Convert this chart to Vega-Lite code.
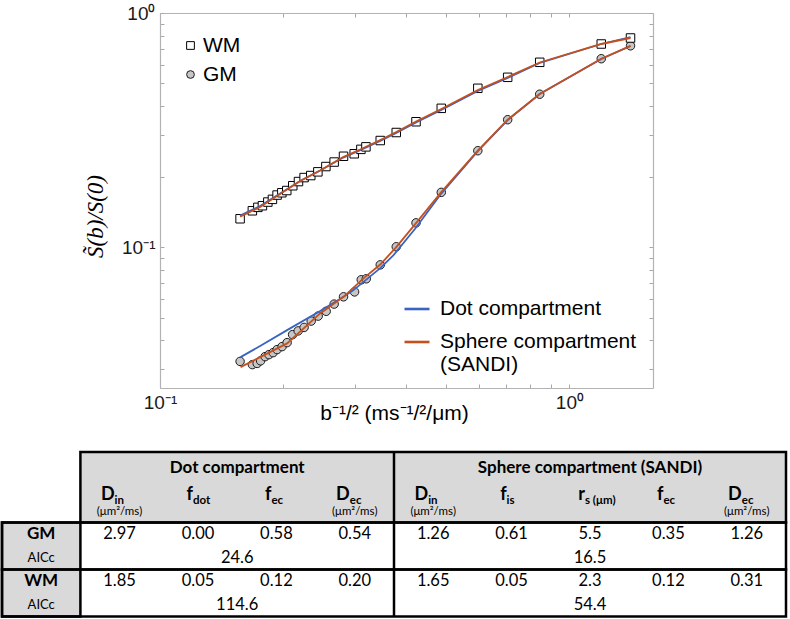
{
  "$schema": "https://vega.github.io/schema/vega-lite/v6.json",
  "width": 790,
  "height": 619,
  "autosize": {"type": "none"},
  "padding": 0,
  "background": "white",
  "config": {"view": {"stroke": null}, "font": "Liberation Sans"},
  "datasets": {
    "points": [
      {"tissue": "GM", "b": 0.1569, "s": 0.03247}, {"tissue": "GM", "b": 0.1681, "s": 0.03147},
      {"tissue": "GM", "b": 0.1727, "s": 0.03184}, {"tissue": "GM", "b": 0.1761, "s": 0.03266},
      {"tissue": "GM", "b": 0.1806, "s": 0.03404}, {"tissue": "GM", "b": 0.1845, "s": 0.03471},
      {"tissue": "GM", "b": 0.1889, "s": 0.0354}, {"tissue": "GM", "b": 0.1932, "s": 0.03648},
      {"tissue": "GM", "b": 0.1987, "s": 0.03757}, {"tissue": "GM", "b": 0.2044, "s": 0.03907},
      {"tissue": "GM", "b": 0.2108, "s": 0.04227}, {"tissue": "GM", "b": 0.2175, "s": 0.04384},
      {"tissue": "GM", "b": 0.2249, "s": 0.04537}, {"tissue": "GM", "b": 0.234, "s": 0.04828},
      {"tissue": "GM", "b": 0.2434, "s": 0.05071}, {"tissue": "GM", "b": 0.2546, "s": 0.05316},
      {"tissue": "GM", "b": 0.2663, "s": 0.05707}, {"tissue": "GM", "b": 0.2807, "s": 0.06131},
      {"tissue": "GM", "b": 0.2987, "s": 0.06433}, {"tissue": "GM", "b": 0.3101, "s": 0.0725},
      {"tissue": "GM", "b": 0.319, "s": 0.0732}, {"tissue": "GM", "b": 0.3451, "s": 0.08394},
      {"tissue": "GM", "b": 0.3776, "s": 0.1003}, {"tissue": "GM", "b": 0.422, "s": 0.1269},
      {"tissue": "GM", "b": 0.4864, "s": 0.1713}, {"tissue": "GM", "b": 0.5974, "s": 0.258},
      {"tissue": "GM", "b": 0.7066, "s": 0.35}, {"tissue": "GM", "b": 0.8461, "s": 0.4498},
      {"tissue": "GM", "b": 1.196, "s": 0.6378}, {"tissue": "GM", "b": 1.41, "s": 0.7241},
      {"tissue": "WM", "b": 0.1569, "s": 0.1321}, {"tissue": "WM", "b": 0.1681, "s": 0.1429},
      {"tissue": "WM", "b": 0.1734, "s": 0.1478}, {"tissue": "WM", "b": 0.1779, "s": 0.1502},
      {"tissue": "WM", "b": 0.1834, "s": 0.1557}, {"tissue": "WM", "b": 0.1882, "s": 0.1599},
      {"tissue": "WM", "b": 0.1932, "s": 0.1668}, {"tissue": "WM", "b": 0.1984, "s": 0.1706},
      {"tissue": "WM", "b": 0.204, "s": 0.1744}, {"tissue": "WM", "b": 0.211, "s": 0.1828},
      {"tissue": "WM", "b": 0.2179, "s": 0.1905}, {"tissue": "WM", "b": 0.2249, "s": 0.1981},
      {"tissue": "WM", "b": 0.2335, "s": 0.2021}, {"tissue": "WM", "b": 0.243, "s": 0.2096},
      {"tissue": "WM", "b": 0.2542, "s": 0.2208}, {"tissue": "WM", "b": 0.2663, "s": 0.2308},
      {"tissue": "WM", "b": 0.2807, "s": 0.2443}, {"tissue": "WM", "b": 0.2981, "s": 0.2504},
      {"tissue": "WM", "b": 0.3095, "s": 0.2615}, {"tissue": "WM", "b": 0.3184, "s": 0.268},
      {"tissue": "WM", "b": 0.3451, "s": 0.2852}, {"tissue": "WM", "b": 0.3776, "s": 0.3086},
      {"tissue": "WM", "b": 0.422, "s": 0.3431}, {"tissue": "WM", "b": 0.4864, "s": 0.3915},
      {"tissue": "WM", "b": 0.5974, "s": 0.4768}, {"tissue": "WM", "b": 0.7066, "s": 0.5312},
      {"tissue": "WM", "b": 0.8461, "s": 0.6157}, {"tissue": "WM", "b": 1.196, "s": 0.7372},
      {"tissue": "WM", "b": 1.41, "s": 0.782}
    ],
    "fits": [
      {"tissue": "GM", "model": "Dot compartment", "b": 0.1573, "s": 0.03388},
      {"tissue": "GM", "model": "Dot compartment", "b": 0.1756, "s": 0.03776},
      {"tissue": "GM", "model": "Dot compartment", "b": 0.2044, "s": 0.04418},
      {"tissue": "GM", "model": "Dot compartment", "b": 0.2461, "s": 0.05327},
      {"tissue": "GM", "model": "Dot compartment", "b": 0.2807, "s": 0.06131},
      {"tissue": "GM", "model": "Dot compartment", "b": 0.2969, "s": 0.06549},
      {"tissue": "GM", "model": "Dot compartment", "b": 0.3451, "s": 0.08133},
      {"tissue": "GM", "model": "Dot compartment", "b": 0.3719, "s": 0.09243},
      {"tissue": "GM", "model": "Dot compartment", "b": 0.4203, "s": 0.12},
      {"tissue": "GM", "model": "Dot compartment", "b": 0.4864, "s": 0.1693},
      {"tissue": "GM", "model": "Dot compartment", "b": 0.5974, "s": 0.2572},
      {"tissue": "GM", "model": "Dot compartment", "b": 0.7066, "s": 0.3489},
      {"tissue": "GM", "model": "Dot compartment", "b": 0.8461, "s": 0.4507},
      {"tissue": "GM", "model": "Dot compartment", "b": 1.196, "s": 0.6359},
      {"tissue": "GM", "model": "Dot compartment", "b": 1.41, "s": 0.7227},
      {"tissue": "WM", "model": "Dot compartment", "b": 0.1569, "s": 0.1363},
      {"tissue": "WM", "model": "Dot compartment", "b": 0.1756, "s": 0.1497},
      {"tissue": "WM", "model": "Dot compartment", "b": 0.1965, "s": 0.1693},
      {"tissue": "WM", "model": "Dot compartment", "b": 0.2199, "s": 0.1914},
      {"tissue": "WM", "model": "Dot compartment", "b": 0.2461, "s": 0.2123},
      {"tissue": "WM", "model": "Dot compartment", "b": 0.2802, "s": 0.2412},
      {"tissue": "WM", "model": "Dot compartment", "b": 0.3083, "s": 0.2597},
      {"tissue": "WM", "model": "Dot compartment", "b": 0.3451, "s": 0.2838},
      {"tissue": "WM", "model": "Dot compartment", "b": 0.3776, "s": 0.3071},
      {"tissue": "WM", "model": "Dot compartment", "b": 0.422, "s": 0.3404},
      {"tissue": "WM", "model": "Dot compartment", "b": 0.4864, "s": 0.385},
      {"tissue": "WM", "model": "Dot compartment", "b": 0.5974, "s": 0.4641},
      {"tissue": "WM", "model": "Dot compartment", "b": 0.7066, "s": 0.5275},
      {"tissue": "WM", "model": "Dot compartment", "b": 0.8461, "s": 0.6115},
      {"tissue": "WM", "model": "Dot compartment", "b": 1.196, "s": 0.7372},
      {"tissue": "WM", "model": "Dot compartment", "b": 1.41, "s": 0.7897},
      {"tissue": "GM", "model": "Sphere compartment (SANDI)", "b": 0.1573, "s": 0.0307},
      {"tissue": "GM", "model": "Sphere compartment (SANDI)", "b": 0.1756, "s": 0.03388},
      {"tissue": "GM", "model": "Sphere compartment (SANDI)", "b": 0.2044, "s": 0.03877},
      {"tissue": "GM", "model": "Sphere compartment (SANDI)", "b": 0.2461, "s": 0.05208},
      {"tissue": "GM", "model": "Sphere compartment (SANDI)", "b": 0.2807, "s": 0.06131},
      {"tissue": "GM", "model": "Sphere compartment (SANDI)", "b": 0.3141, "s": 0.07348},
      {"tissue": "GM", "model": "Sphere compartment (SANDI)", "b": 0.3451, "s": 0.08419},
      {"tissue": "GM", "model": "Sphere compartment (SANDI)", "b": 0.3776, "s": 0.1},
      {"tissue": "GM", "model": "Sphere compartment (SANDI)", "b": 0.422, "s": 0.1266},
      {"tissue": "GM", "model": "Sphere compartment (SANDI)", "b": 0.4864, "s": 0.1718},
      {"tissue": "GM", "model": "Sphere compartment (SANDI)", "b": 0.5974, "s": 0.258},
      {"tissue": "GM", "model": "Sphere compartment (SANDI)", "b": 0.7066, "s": 0.35},
      {"tissue": "GM", "model": "Sphere compartment (SANDI)", "b": 0.8461, "s": 0.4507},
      {"tissue": "GM", "model": "Sphere compartment (SANDI)", "b": 1.196, "s": 0.6378},
      {"tissue": "GM", "model": "Sphere compartment (SANDI)", "b": 1.41, "s": 0.7241},
      {"tissue": "WM", "model": "Sphere compartment (SANDI)", "b": 0.1569, "s": 0.135},
      {"tissue": "WM", "model": "Sphere compartment (SANDI)", "b": 0.1756, "s": 0.1482},
      {"tissue": "WM", "model": "Sphere compartment (SANDI)", "b": 0.1965, "s": 0.1685},
      {"tissue": "WM", "model": "Sphere compartment (SANDI)", "b": 0.2199, "s": 0.1914},
      {"tissue": "WM", "model": "Sphere compartment (SANDI)", "b": 0.2461, "s": 0.2123},
      {"tissue": "WM", "model": "Sphere compartment (SANDI)", "b": 0.2802, "s": 0.2424},
      {"tissue": "WM", "model": "Sphere compartment (SANDI)", "b": 0.3083, "s": 0.261},
      {"tissue": "WM", "model": "Sphere compartment (SANDI)", "b": 0.3451, "s": 0.2866},
      {"tissue": "WM", "model": "Sphere compartment (SANDI)", "b": 0.3776, "s": 0.3101},
      {"tissue": "WM", "model": "Sphere compartment (SANDI)", "b": 0.422, "s": 0.3438},
      {"tissue": "WM", "model": "Sphere compartment (SANDI)", "b": 0.4864, "s": 0.3888},
      {"tissue": "WM", "model": "Sphere compartment (SANDI)", "b": 0.5974, "s": 0.4688},
      {"tissue": "WM", "model": "Sphere compartment (SANDI)", "b": 0.7066, "s": 0.5328},
      {"tissue": "WM", "model": "Sphere compartment (SANDI)", "b": 0.8461, "s": 0.6145},
      {"tissue": "WM", "model": "Sphere compartment (SANDI)", "b": 1.196, "s": 0.7372},
      {"tissue": "WM", "model": "Sphere compartment (SANDI)", "b": 1.41, "s": 0.782}
    ],
    "tbl_shade": [
      {"part": "header", "col": "d_din", "col2": "s_dec", "row": "h1", "row2": "h3"},
      {"part": "labels", "col": "lab", "col2": "lab", "row": "GM", "row2": "A2"}
    ],
    "tbl_box": [
      {"part": "header", "col": "d_din", "col2": "s_dec", "row": "h1", "row2": "h3"},
      {"part": "labels", "col": "lab", "col2": "lab", "row": "GM", "row2": "A2"},
      {"part": "GM", "col": "lab", "col2": "s_dec", "row": "GM", "row2": "A1"},
      {"part": "WM", "col": "lab", "col2": "s_dec", "row": "WM", "row2": "A2"}
    ],
    "tbl_div": [{"col": "s_din", "row": "h1", "row2": "A2"}],
    "tbl_titles": [
      {"block": "Dot compartment", "col": "d_fec", "row": "h1"},
      {"block": "Sphere compartment (SANDI)", "col": "s_rs", "row": "h1"}
    ],
    "tbl_params": [
      {"col": "d_din", "row": "h2", "sym": "D", "sub": "in"},
      {"col": "d_fdot", "row": "h2", "sym": "f", "sub": "dot"},
      {"col": "d_fec", "row": "h2", "sym": "f", "sub": "ec"},
      {"col": "d_dec", "row": "h2", "sym": "D", "sub": "ec"},
      {"col": "s_din", "row": "h2", "sym": "D", "sub": "in"},
      {"col": "s_fis", "row": "h2", "sym": "f", "sub": "is"},
      {"col": "s_rs", "row": "h2", "sym": "r", "sub": "s (μm)"},
      {"col": "s_fec", "row": "h2", "sym": "f", "sub": "ec"},
      {"col": "s_dec", "row": "h2", "sym": "D", "sub": "ec"}
    ],
    "tbl_units": [
      {"col": "d_din", "row": "h3", "unit": "(μm²/ms)"},
      {"col": "d_dec", "row": "h3", "unit": "(μm²/ms)"},
      {"col": "s_din", "row": "h3", "unit": "(μm²/ms)"},
      {"col": "s_dec", "row": "h3", "unit": "(μm²/ms)"}
    ],
    "tbl_rowlab": [
      {"col": "lab", "row": "GM", "label": "GM", "kind": "tissue"},
      {"col": "lab", "row": "A1", "label": "AICc", "kind": "criterion"},
      {"col": "lab", "row": "WM", "label": "WM", "kind": "tissue"},
      {"col": "lab", "row": "A2", "label": "AICc", "kind": "criterion"}
    ],
    "tbl_vals": [
      {"row": "GM", "col": "d_din", "value": "2.97"}, {"row": "GM", "col": "d_fdot", "value": "0.00"},
      {"row": "GM", "col": "d_fec", "value": "0.58"}, {"row": "GM", "col": "d_dec", "value": "0.54"},
      {"row": "GM", "col": "s_din", "value": "1.26"}, {"row": "GM", "col": "s_fis", "value": "0.61"},
      {"row": "GM", "col": "s_rs", "value": "5.5"}, {"row": "GM", "col": "s_fec", "value": "0.35"},
      {"row": "GM", "col": "s_dec", "value": "1.26"},
      {"row": "WM", "col": "d_din", "value": "1.85"}, {"row": "WM", "col": "d_fdot", "value": "0.05"},
      {"row": "WM", "col": "d_fec", "value": "0.12"}, {"row": "WM", "col": "d_dec", "value": "0.20"},
      {"row": "WM", "col": "s_din", "value": "1.65"}, {"row": "WM", "col": "s_fis", "value": "0.05"},
      {"row": "WM", "col": "s_rs", "value": "2.3"}, {"row": "WM", "col": "s_fec", "value": "0.12"},
      {"row": "WM", "col": "s_dec", "value": "0.31"}
    ],
    "tbl_aic": [
      {"row": "A1", "model": "Dot compartment", "col": "d_fec", "value": "24.6"},
      {"row": "A1", "model": "Sphere compartment (SANDI)", "col": "s_rs", "value": "16.5"},
      {"row": "A2", "model": "Dot compartment", "col": "d_fec", "value": "114.6"},
      {"row": "A2", "model": "Sphere compartment (SANDI)", "col": "s_rs", "value": "54.4"}
    ]
  },
  "layer": [
    {
      "layer": [
        {
          "data": {"name": "points"},
          "mark": {"type": "point", "filled": true, "strokeWidth": 1, "opacity": 1, "size": 72},
          "encoding": {
            "x": {
              "field": "b", "type": "quantitative",
              "scale": {"type": "log", "domain": [0.1, 1.6], "range": [160, 653], "nice": false},
              "axis": {
                "orient": "bottom", "offset": -231, "grid": false,
                "values": [0.1, 0.2, 0.3, 0.4, 0.5, 0.6, 0.7, 0.8, 0.9, 1],
                "labelExpr": "datum.value == 0.1 ? '10⁻¹' : (datum.value == 1 ? '10⁰' : '')",
                "labelFlush": false, "labelOverlap": false, "labelFontSize": 19, "labelFont": "Liberation Sans",
                "labelColor": "#1a1a1a", "labelPadding": 9, "tickSize": -4, "tickColor": "#a8a8a8",
                "domainColor": "#b3b3b3", "domainWidth": 1.2,
                "title": "b⁻¹/² (ms⁻¹/²/μm)", "titleFontSize": 21, "titleFont": "Liberation Sans",
                "titleFontWeight": "normal", "titleColor": "black", "titleX": 394, "titleY": 14,
                "titleBaseline": "top", "titleAlign": "center"
              }
            },
            "y": {
              "field": "s", "type": "quantitative",
              "scale": {"type": "log", "domain": [0.025, 1], "range": [388, 13], "nice": false},
              "axis": {
                "orient": "left", "offset": -160, "grid": false,
                "values": [0.03, 0.04, 0.05, 0.06, 0.07, 0.08, 0.09, 0.1, 0.2, 0.3, 0.4, 0.5, 0.6, 0.7, 0.8, 0.9, 1],
                "labelExpr": "datum.value == 0.1 ? '10⁻¹' : (datum.value == 1 ? '10⁰' : '')",
                "labelFlush": false, "labelOverlap": false, "labelFontSize": 19, "labelFont": "Liberation Sans",
                "labelColor": "#1a1a1a", "labelPadding": 9, "tickSize": -4, "tickColor": "#a8a8a8",
                "domainColor": "#b3b3b3", "domainWidth": 1.2,
                "title": "S̃(b)/S(0)", "titleFontSize": 23, "titleFont": "Liberation Serif",
                "titleFontStyle": "italic", "titleFontWeight": "normal", "titleColor": "black",
                "titleAngle": -90, "titleX": -65, "titleY": 216, "titleBaseline": "middle", "titleAlign": "center"
              }
            },
            "shape": {
              "field": "tissue", "type": "nominal",
              "scale": {"domain": ["WM", "GM"], "range": ["square", "circle"]},
              "legend": {
                "orient": "none", "legendX": 180, "legendY": 35, "title": null, "padding": 0,
                "labelFontSize": 21, "labelFont": "Liberation Sans", "labelColor": "black",
                "symbolStrokeWidth": 1, "symbolSize": 60,
                "labelOffset": 2, "rowPadding": 7
              }
            },
            "fill": {
              "field": "tissue", "type": "nominal",
              "scale": {"domain": ["WM", "GM"], "range": ["white", "#c6c6c6"]},
              "legend": {
                "orient": "none", "legendX": 180, "legendY": 35, "title": null, "padding": 0,
                "labelFontSize": 21, "labelFont": "Liberation Sans", "labelColor": "black",
                "symbolStrokeWidth": 1, "symbolSize": 60,
                "labelOffset": 2, "rowPadding": 7
              }
            },
            "stroke": {
              "field": "tissue", "type": "nominal",
              "scale": {"domain": ["WM", "GM"], "range": ["black", "#1a1a1a"]},
              "legend": {
                "orient": "none", "legendX": 180, "legendY": 35, "title": null, "padding": 0,
                "labelFontSize": 21, "labelFont": "Liberation Sans", "labelColor": "black",
                "symbolStrokeWidth": 1, "symbolSize": 60,
                "labelOffset": 2, "rowPadding": 7
              }
            }
          }
        },
        {
          "data": {"name": "fits"},
          "mark": {"type": "line", "strokeWidth": 1.8},
          "encoding": {
            "x": {
              "field": "b", "type": "quantitative",
              "axis": {
                "orient": "top", "offset": -13, "grid": false, "labels": false, "title": null,
                "values": [0.1, 0.2, 0.3, 0.4, 0.5, 0.6, 0.7, 0.8, 0.9, 1],
                "tickSize": -4, "tickColor": "#a8a8a8", "domainColor": "#b3b3b3", "domainWidth": 1.2
              }
            },
            "y": {
              "field": "s", "type": "quantitative",
              "axis": {
                "orient": "right", "offset": -137, "grid": false, "labels": false, "title": null,
                "values": [0.03, 0.04, 0.05, 0.06, 0.07, 0.08, 0.09, 0.1, 0.2, 0.3, 0.4, 0.5, 0.6, 0.7, 0.8, 0.9, 1],
                "tickSize": -4, "tickColor": "#a8a8a8", "domainColor": "#b3b3b3", "domainWidth": 1.2
              }
            },
            "color": {
              "field": "model", "type": "nominal",
              "scale": {"domain": ["Dot compartment", "Sphere compartment (SANDI)"], "range": ["#3a63c2", "#c4501e"]},
              "legend": {
                "orient": "none", "legendX": 403, "legendY": 295, "title": null, "padding": 0,
                "symbolType": "stroke", "symbolSize": 625, "symbolStrokeWidth": 2.6,
                "labelFontSize": 21, "labelFont": "Liberation Sans", "labelColor": "black",
                "labelOffset": 9, "rowPadding": 9, "labelLimit": 400,
                "labelExpr": "datum.label == 'Sphere compartment (SANDI)' ? ['Sphere compartment', '(SANDI)'] : datum.label"
              }
            },
            "detail": {"field": "tissue", "type": "nominal"}
          }
        }
      ]
    },
    {
      "layer": [
        {
          "data": {"name": "tbl_shade"},
          "mark": {"type": "rect", "fill": "#d9d9d9", "strokeWidth": 0},
          "encoding": {
            "x": {"field": "col", "type": "nominal", "bandPosition": 0, "axis": null,
              "scale": {"type": "band", "domain": ["lab", "d_din", "d_fdot", "d_fec", "d_dec", "s_din", "s_fis", "s_rs", "s_fec", "s_dec"], "range": [2, 786], "paddingInner": 0, "paddingOuter": 0}},
            "x2": {"field": "col2", "bandPosition": 1},
            "y": {"field": "row", "type": "nominal", "bandPosition": 0, "axis": null,
              "scale": {"type": "band", "domain": ["h1", "h2", "h3", "GM", "A1", "WM", "A2"], "range": [452, 616.5], "paddingInner": 0, "paddingOuter": 0}},
            "y2": {"field": "row2", "bandPosition": 1}
          }
        },
        {
          "data": {"name": "tbl_box"},
          "mark": {"type": "rect", "fill": null, "fillOpacity": 0, "stroke": "black", "strokeWidth": 2.5},
          "encoding": {
            "x": {"field": "col", "type": "nominal", "bandPosition": 0, "axis": null,
              "scale": {"type": "band", "domain": ["lab", "d_din", "d_fdot", "d_fec", "d_dec", "s_din", "s_fis", "s_rs", "s_fec", "s_dec"], "range": [2, 786], "paddingInner": 0, "paddingOuter": 0}},
            "x2": {"field": "col2", "bandPosition": 1},
            "y": {"field": "row", "type": "nominal", "bandPosition": 0, "axis": null,
              "scale": {"type": "band", "domain": ["h1", "h2", "h3", "GM", "A1", "WM", "A2"], "range": [452, 616.5], "paddingInner": 0, "paddingOuter": 0}},
            "y2": {"field": "row2", "bandPosition": 1}
          }
        },
        {
          "data": {"name": "tbl_div"},
          "mark": {"type": "rule", "stroke": "black", "strokeWidth": 2.5},
          "encoding": {
            "x": {"field": "col", "type": "nominal", "bandPosition": 0, "axis": null,
              "scale": {"type": "band", "domain": ["lab", "d_din", "d_fdot", "d_fec", "d_dec", "s_din", "s_fis", "s_rs", "s_fec", "s_dec"], "range": [2, 786], "paddingInner": 0, "paddingOuter": 0}},
            "y": {"field": "row", "type": "nominal", "bandPosition": 0, "axis": null,
              "scale": {"type": "band", "domain": ["h1", "h2", "h3", "GM", "A1", "WM", "A2"], "range": [452, 616.5], "paddingInner": 0, "paddingOuter": 0}},
            "y2": {"field": "row2", "bandPosition": 1}
          }
        },
        {
          "data": {"name": "tbl_titles"},
          "transform": [{"filter": "datum.block == 'Dot compartment'"}],
          "mark": {"type": "text", "font": "Lato", "fontSize": 17, "fontWeight": "bold", "color": "black", "baseline": "middle", "align": "center", "dy": 4},
          "encoding": {
            "x": {"field": "col", "type": "nominal", "bandPosition": 0, "axis": null,
              "scale": {"type": "band", "domain": ["lab", "d_din", "d_fdot", "d_fec", "d_dec", "s_din", "s_fis", "s_rs", "s_fec", "s_dec"], "range": [2, 786], "paddingInner": 0, "paddingOuter": 0}},
            "y": {"field": "row", "type": "nominal", "bandPosition": 0.5, "axis": null,
              "scale": {"type": "band", "domain": ["h1", "h2", "h3", "GM", "A1", "WM", "A2"], "range": [452, 616.5], "paddingInner": 0, "paddingOuter": 0}},
            "text": {"field": "block"}
          }
        },
        {
          "data": {"name": "tbl_titles"},
          "transform": [{"filter": "datum.block != 'Dot compartment'"}],
          "mark": {"type": "text", "font": "Lato", "fontSize": 17, "fontWeight": "bold", "color": "black", "baseline": "middle", "align": "center", "dy": 4},
          "encoding": {
            "x": {"field": "col", "type": "nominal", "bandPosition": 0.5, "axis": null,
              "scale": {"type": "band", "domain": ["lab", "d_din", "d_fdot", "d_fec", "d_dec", "s_din", "s_fis", "s_rs", "s_fec", "s_dec"], "range": [2, 786], "paddingInner": 0, "paddingOuter": 0}},
            "y": {"field": "row", "type": "nominal", "bandPosition": 0.5, "axis": null,
              "scale": {"type": "band", "domain": ["h1", "h2", "h3", "GM", "A1", "WM", "A2"], "range": [452, 616.5], "paddingInner": 0, "paddingOuter": 0}},
            "text": {"field": "block"}
          }
        },
        {
          "data": {"name": "tbl_params"},
          "mark": {"type": "text", "font": "Lato", "fontSize": 18, "fontWeight": "bold", "color": "black", "baseline": "alphabetic", "align": "right", "dx": -5, "dy": 12.5},
          "encoding": {
            "x": {"field": "col", "type": "nominal", "bandPosition": 0.5, "axis": null,
              "scale": {"type": "band", "domain": ["lab", "d_din", "d_fdot", "d_fec", "d_dec", "s_din", "s_fis", "s_rs", "s_fec", "s_dec"], "range": [2, 786], "paddingInner": 0, "paddingOuter": 0}},
            "y": {"field": "row", "type": "nominal", "bandPosition": 0.5, "axis": null,
              "scale": {"type": "band", "domain": ["h1", "h2", "h3", "GM", "A1", "WM", "A2"], "range": [452, 616.5], "paddingInner": 0, "paddingOuter": 0}},
            "text": {"field": "sym"}
          }
        },
        {
          "data": {"name": "tbl_params"},
          "mark": {"type": "text", "font": "Lato", "fontSize": 11.5, "fontWeight": "bold", "color": "black", "baseline": "alphabetic", "align": "left", "dx": -5, "dy": 16.5},
          "encoding": {
            "x": {"field": "col", "type": "nominal", "bandPosition": 0.5, "axis": null,
              "scale": {"type": "band", "domain": ["lab", "d_din", "d_fdot", "d_fec", "d_dec", "s_din", "s_fis", "s_rs", "s_fec", "s_dec"], "range": [2, 786], "paddingInner": 0, "paddingOuter": 0}},
            "y": {"field": "row", "type": "nominal", "bandPosition": 0.5, "axis": null,
              "scale": {"type": "band", "domain": ["h1", "h2", "h3", "GM", "A1", "WM", "A2"], "range": [452, 616.5], "paddingInner": 0, "paddingOuter": 0}},
            "text": {"field": "sub"}
          }
        },
        {
          "data": {"name": "tbl_units"},
          "mark": {"type": "text", "font": "Lato", "fontSize": 11.5, "color": "black", "baseline": "middle", "align": "center", "dy": 1.5},
          "encoding": {
            "x": {"field": "col", "type": "nominal", "bandPosition": 0.5, "axis": null,
              "scale": {"type": "band", "domain": ["lab", "d_din", "d_fdot", "d_fec", "d_dec", "s_din", "s_fis", "s_rs", "s_fec", "s_dec"], "range": [2, 786], "paddingInner": 0, "paddingOuter": 0}},
            "y": {"field": "row", "type": "nominal", "bandPosition": 0.5, "axis": null,
              "scale": {"type": "band", "domain": ["h1", "h2", "h3", "GM", "A1", "WM", "A2"], "range": [452, 616.5], "paddingInner": 0, "paddingOuter": 0}},
            "text": {"field": "unit"}
          }
        },
        {
          "data": {"name": "tbl_rowlab"},
          "transform": [{"filter": "datum.kind == 'tissue'"}],
          "mark": {"type": "text", "font": "Lato", "fontSize": 17, "fontWeight": "bold", "color": "black", "baseline": "middle", "align": "center"},
          "encoding": {
            "x": {"field": "col", "type": "nominal", "bandPosition": 0.5, "axis": null,
              "scale": {"type": "band", "domain": ["lab", "d_din", "d_fdot", "d_fec", "d_dec", "s_din", "s_fis", "s_rs", "s_fec", "s_dec"], "range": [2, 786], "paddingInner": 0, "paddingOuter": 0}},
            "y": {"field": "row", "type": "nominal", "bandPosition": 0.5, "axis": null,
              "scale": {"type": "band", "domain": ["h1", "h2", "h3", "GM", "A1", "WM", "A2"], "range": [452, 616.5], "paddingInner": 0, "paddingOuter": 0}},
            "text": {"field": "label"}
          }
        },
        {
          "data": {"name": "tbl_rowlab"},
          "transform": [{"filter": "datum.kind != 'tissue'"}],
          "mark": {"type": "text", "font": "Lato", "fontSize": 13, "color": "black", "baseline": "middle", "align": "center"},
          "encoding": {
            "x": {"field": "col", "type": "nominal", "bandPosition": 0.5, "axis": null,
              "scale": {"type": "band", "domain": ["lab", "d_din", "d_fdot", "d_fec", "d_dec", "s_din", "s_fis", "s_rs", "s_fec", "s_dec"], "range": [2, 786], "paddingInner": 0, "paddingOuter": 0}},
            "y": {"field": "row", "type": "nominal", "bandPosition": 0.5, "axis": null,
              "scale": {"type": "band", "domain": ["h1", "h2", "h3", "GM", "A1", "WM", "A2"], "range": [452, 616.5], "paddingInner": 0, "paddingOuter": 0}},
            "text": {"field": "label"}
          }
        },
        {
          "data": {"name": "tbl_vals"},
          "mark": {"type": "text", "font": "Lato", "fontSize": 16.5, "color": "black", "baseline": "middle", "align": "center"},
          "encoding": {
            "x": {"field": "col", "type": "nominal", "bandPosition": 0.5, "axis": null,
              "scale": {"type": "band", "domain": ["lab", "d_din", "d_fdot", "d_fec", "d_dec", "s_din", "s_fis", "s_rs", "s_fec", "s_dec"], "range": [2, 786], "paddingInner": 0, "paddingOuter": 0}},
            "y": {"field": "row", "type": "nominal", "bandPosition": 0.5, "axis": null,
              "scale": {"type": "band", "domain": ["h1", "h2", "h3", "GM", "A1", "WM", "A2"], "range": [452, 616.5], "paddingInner": 0, "paddingOuter": 0}},
            "text": {"field": "value"}
          }
        },
        {
          "data": {"name": "tbl_aic"},
          "transform": [{"filter": "datum.model == 'Dot compartment'"}],
          "mark": {"type": "text", "font": "Lato", "fontSize": 16.5, "color": "black", "baseline": "middle", "align": "center"},
          "encoding": {
            "x": {"field": "col", "type": "nominal", "bandPosition": 0, "axis": null,
              "scale": {"type": "band", "domain": ["lab", "d_din", "d_fdot", "d_fec", "d_dec", "s_din", "s_fis", "s_rs", "s_fec", "s_dec"], "range": [2, 786], "paddingInner": 0, "paddingOuter": 0}},
            "y": {"field": "row", "type": "nominal", "bandPosition": 0.5, "axis": null,
              "scale": {"type": "band", "domain": ["h1", "h2", "h3", "GM", "A1", "WM", "A2"], "range": [452, 616.5], "paddingInner": 0, "paddingOuter": 0}},
            "text": {"field": "value"}
          }
        },
        {
          "data": {"name": "tbl_aic"},
          "transform": [{"filter": "datum.model != 'Dot compartment'"}],
          "mark": {"type": "text", "font": "Lato", "fontSize": 16.5, "color": "black", "baseline": "middle", "align": "center"},
          "encoding": {
            "x": {"field": "col", "type": "nominal", "bandPosition": 0.5, "axis": null,
              "scale": {"type": "band", "domain": ["lab", "d_din", "d_fdot", "d_fec", "d_dec", "s_din", "s_fis", "s_rs", "s_fec", "s_dec"], "range": [2, 786], "paddingInner": 0, "paddingOuter": 0}},
            "y": {"field": "row", "type": "nominal", "bandPosition": 0.5, "axis": null,
              "scale": {"type": "band", "domain": ["h1", "h2", "h3", "GM", "A1", "WM", "A2"], "range": [452, 616.5], "paddingInner": 0, "paddingOuter": 0}},
            "text": {"field": "value"}
          }
        }
      ]
    }
  ],
  "resolve": {"scale": {"x": "independent", "y": "independent"}}
}
